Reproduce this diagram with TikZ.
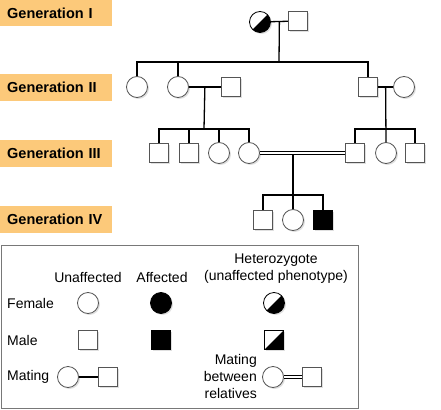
\documentclass[tikz,border=0pt]{standalone}
\usepackage{fontspec}
\setmainfont{Liberation Sans}
\usepackage{tikz}
\usetikzlibrary{calc,shadows}
\definecolor{genorange}{RGB}{252,201,122}
\definecolor{symgray}{RGB}{85,85,85}
\definecolor{boxgray}{RGB}{120,120,120}
\definecolor{myblack}{rgb}{0.000,0.000,0.000}
\definecolor{mywhite}{rgb}{1.000,1.000,1.000}
\tikzstyle{shade}=[drop shadow={shadow xshift=1.5pt,shadow yshift=-1.5pt,opacity=0.25}]
\tikzstyle{female}=[circle,fill=mywhite,draw=symgray,line width=0.8pt,minimum size=21pt,inner sep=0pt,shade]
\tikzstyle{male}=[rectangle,fill=mywhite,draw=symgray,line width=0.8pt,minimum size=19.5pt,inner sep=0pt,shade]
\tikzstyle{afffemale}=[female,fill=myblack,draw=myblack]
\tikzstyle{affmale}=[male,fill=myblack,draw=myblack]
\tikzstyle{het}=[path picture={\fill[myblack] (path picture bounding box.north east) -- (path picture bounding box.south east) -- (path picture bounding box.south west) -- cycle;}]
\tikzstyle{hetfemale}=[female,draw=myblack,het]
\tikzstyle{hetmale}=[male,draw=myblack,het]
\tikzstyle{genlabel}=[rectangle,fill=genorange,anchor=west,minimum height=27pt,text width=98pt,inner xsep=7pt,align=left,font=\fontsize{14.5}{17}\selectfont\bfseries]
\tikzstyle{legtext}=[inner sep=0pt,font=\fontsize{14}{17}\selectfont]
\tikzstyle{link}=[draw=myblack,line width=1.3pt]
\tikzstyle{kinlink}=[draw=myblack,line width=1pt,double=mywhite,double distance=2pt]

\begin{document}
\begin{tikzpicture}[x=1pt,y=-1pt]
	\useasboundingbox (0,0) rectangle (441,409);
	% generation labels
		\node [style=genlabel] (g1) at (0, 13) {Generation I};
		\node [style=genlabel] (g2) at (0, 87.5) {Generation II};
		\node [style=genlabel] (g3) at (0, 153.5) {Generation III};
		\node [style=genlabel] (g4) at (0, 219.5) {Generation IV};
	% generation I
		\node [style=hetfemale] (0) at (260, 22) {};
		\node [style=male] (1) at (298, 21) {};
	% generation II
		\node [style=female] (2) at (137, 87) {};
		\node [style=female] (3) at (178, 87) {};
		\node [style=male] (4) at (231, 87) {};
		\node [style=male] (5) at (368, 87) {};
		\node [style=female] (6) at (404, 87) {};
	% generation III
		\node [style=male] (7) at (159, 153) {};
		\node [style=male] (8) at (189, 153) {};
		\node [style=female] (9) at (219, 153) {};
		\node [style=female] (10) at (249, 153) {};
		\node [style=male] (11) at (355, 153) {};
		\node [style=female] (12) at (386, 153) {};
		\node [style=male] (13) at (415, 153) {};
	% generation IV
		\node [style=male] (14) at (263, 220) {};
		\node [style=female] (15) at (293, 220) {};
		\node [style=affmale] (16) at (323, 220) {};

	\coordinate (c0) at ($(0.east)!0.5!(1.west)$);
	\coordinate (s1) at (279, 62);
	\coordinate (c1) at ($(3.east)!0.5!(4.west)$);
	\coordinate (s2) at (204, 129);
	\coordinate (c2) at ($(5.east)!0.5!(6.west)$);
	\coordinate (s3) at (c2 |- s2);
	\coordinate (c3) at (293, 154.5);
	\coordinate (s4) at (293, 195);

	\draw [style=link] (0) -- (1);
	\draw [style=link] (c0) -- (s1);
	\draw [style=link] (2.north) |- (s1) -| (5.north);
	\draw [style=link] (3.north) -- (3.north |- s1);
	\draw [style=link] (3) -- (4);
	\draw [style=link] (c1) -- (s2);
	\draw [style=link] (7.north) |- (s2) -| (10.north);
	\draw [style=link] (8.north) -- (8.north |- s2);
	\draw [style=link] (9.north) -- (9.north |- s2);
	\draw [style=link] (5) -- (6);
	\draw [style=link] (c2) -- (12.north);
	\draw [style=link] (11.north) |- (s3) -| (13.north);
	\draw [style=kinlink] (10) -- (11);
	\draw [style=link] (c3) -- (15.north);
	\draw [style=link] (14.north) |- (s4) -| (16.north);

	% key
	\draw [draw=boxgray,line width=1pt] (1, 245) rectangle (358, 408);
		\node [style=legtext] (20) at (276, 260) {Heterozygote};
		\node [style=legtext] (21) at (276, 277) {(unaffected phenotype)};
		\node [style=legtext] (22) at (88, 277) {Unaffected};
		\node [style=legtext] (23) at (162, 277) {Affected};
		\node [style=legtext,anchor=west] (24) at (7, 303) {Female};
		\node [style=legtext,anchor=west] (25) at (7, 340) {Male};
		\node [style=legtext,anchor=west] (26) at (7, 377) {Mating};
		\node [style=legtext,anchor=east,align=right] (27) at (257, 376) {Mating\\between\\relatives};
		\node [style=female] (30) at (88, 303) {};
		\node [style=afffemale] (31) at (161, 303) {};
		\node [style=hetfemale] (32) at (274, 303) {};
		\node [style=male] (33) at (88, 340) {};
		\node [style=affmale] (34) at (161, 340) {};
		\node [style=hetmale] (35) at (274, 340) {};
		\node [style=female] (36) at (68, 377) {};
		\node [style=male] (37) at (108, 377) {};
		\node [style=female] (38) at (273, 377) {};
		\node [style=male] (39) at (312, 377) {};
	\draw [style=link] (36) -- (37);
	\draw [style=kinlink] (38) -- (39);
\end{tikzpicture}
\end{document}
